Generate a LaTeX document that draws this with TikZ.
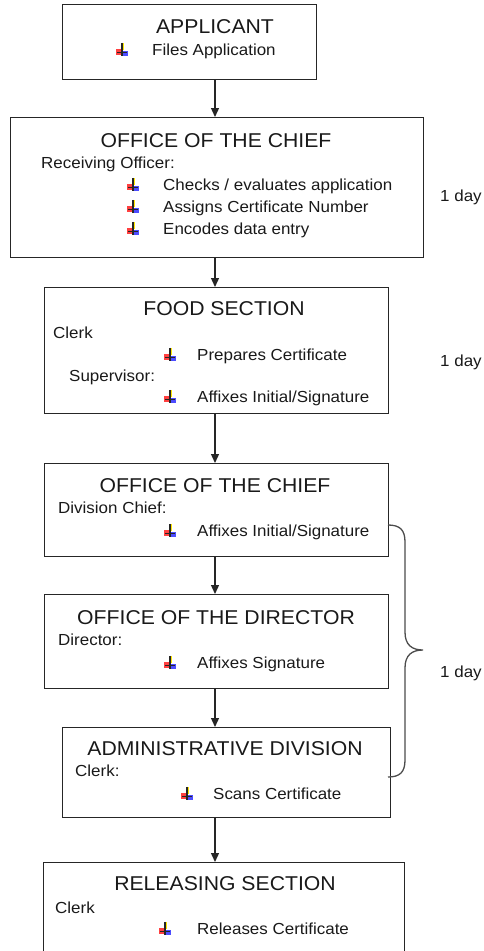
\documentclass[tikz,border=0pt]{standalone}
\usepackage{fontspec}
\setmainfont[FakeStretch=1.06]{Liberation Sans}
\usetikzlibrary{arrows.meta}
\tikzset{
  box/.style={draw=black!85, line width=1.3pt, anchor=north west, inner sep=0pt},
  ttl/.style={anchor=base, inner sep=0pt, font=\fontsize{20}{24}\selectfont, text=black!90},
  txt/.style={anchor=base west, inner sep=0pt, font=\fontsize{16}{19}\selectfont, text=black!90},
  arr/.style={line width=1.3pt, draw=black!85, -{Triangle[length=9pt,width=8pt]}},
  brc/.style={line width=1.3pt, draw=black!70},
  bul/.pic={
    \begin{scope}[scale=1.2]
    \fill[red!75] (-5,-1) rectangle (-1,4);
    \fill[yellow!90!orange] (-1,-6) rectangle (2,0);
    \fill[blue!70] (0,1) rectangle (5,5);
    \draw[black!85, line width=1.2pt] (0,-6) -- (0,5);
    \draw[black!85, line width=1.2pt] (-4,2) -- (4,2);
    \end{scope}
  }
}
\begin{document}
\begin{tikzpicture}[x=1pt,y=-1pt]
\useasboundingbox (0,0) rectangle (484,951);
\coordinate (ax) at (215,0);
% boxes
\node[box, minimum width=254pt, minimum height=75pt] (b1) at (62,4) {};
\node[box, minimum width=413pt, minimum height=140pt] (b2) at (10,117) {};
\node[box, minimum width=344pt, minimum height=126pt] (b3) at (44,287) {};
\node[box, minimum width=344pt, minimum height=93pt] (b4) at (44,463) {};
\node[box, minimum width=344pt, minimum height=94pt] (b5) at (44,594) {};
\node[box, minimum width=328pt, minimum height=90pt] (b6) at (62,727) {};
\node[box, minimum width=361pt, minimum height=110pt] (b7) at (43,862) {};
% arrows
\draw[arr] (b1.south -| ax) -- (b2.north -| ax);
\draw[arr] (b2.south -| ax) -- (b3.north -| ax);
\draw[arr] (b3.south -| ax) -- (b4.north -| ax);
\draw[arr] (b4.south -| ax) -- (b5.north -| ax);
\draw[arr] (b5.south -| ax) -- (b6.north -| ax);
\draw[arr] (b6.south -| ax) -- (b7.north -| ax);
% box 1
\node[ttl] (t1) at (215,33.5) {APPLICANT};
\pic at (122,50) {bul};
\node[txt] (t1a) at (152,55.8) {Files Application};
% box 2
\node[ttl] (t2) at (216,147.5) {OFFICE OF THE CHIEF};
\node[txt] (t2a) at (41,168.8) {Receiving Officer:};
\pic at (133,185) {bul};
\node[txt] (t2b) at (163,190.8) {Checks / evaluates application};
\pic at (133,207) {bul};
\node[txt] (t2c) at (163,212.8) {Assigns Certificate Number};
\pic at (133,229) {bul};
\node[txt] (t2d) at (163,234.8) {Encodes data entry};
\node[txt] (d1) at (440,201.8) {1 day};
% box 3
\node[ttl] (t3) at (224,315.5) {FOOD SECTION};
\node[txt] (t3a) at (53,338.8) {Clerk};
\pic at (170,355) {bul};
\node[txt] (t3b) at (197,360.8) {Prepares Certificate};
\node[txt] (t3c) at (69,381.8) {Supervisor:};
\pic at (170,397) {bul};
\node[txt] (t3d) at (197,402.8) {Affixes Initial/Signature};
\node[txt] (d2) at (440,366.8) {1 day};
% box 4
\node[ttl] (t4) at (215,492.5) {OFFICE OF THE CHIEF};
\node[txt] (t4a) at (58,513.8) {Division Chief:};
\pic at (170,531) {bul};
\node[txt] (t4b) at (197,536.8) {Affixes Initial/Signature};
% box 5
\node[ttl] (t5) at (216,624.5) {OFFICE OF THE DIRECTOR};
\node[txt] (t5a) at (58,645.8) {Director:};
\pic at (170,663) {bul};
\node[txt] (t5b) at (197,668.8) {Affixes Signature};
% box 6
\node[ttl] (t6) at (225,755.5) {ADMINISTRATIVE DIVISION};
\node[txt] (t6a) at (75,776.8) {Clerk:};
\pic at (187,794) {bul};
\node[txt] (t6b) at (213,799.8) {Scans Certificate};
% box 7
\node[ttl] (t7) at (225,890.5) {RELEASING SECTION};
\node[txt] (t7a) at (55,913.8) {Clerk};
\pic at (165,929) {bul};
\node[txt] (t7b) at (197,934.8) {Releases Certificate};
% brace
\coordinate (bt) at (388,525);
\coordinate (bm) at (423,650);
\coordinate (bb) at (388,777);
\draw[brc] (bt) .. controls (400,525) and (405,530) .. (405,542) -- (405,632)
  .. controls (405,645) and (412,650) .. (bm)
  .. controls (412,650) and (405,655) .. (405,668) -- (405,760)
  .. controls (405,772) and (400,777) .. (bb);
\node[txt] (d3) at (440,677.8) {1 day};
\end{tikzpicture}
\end{document}
